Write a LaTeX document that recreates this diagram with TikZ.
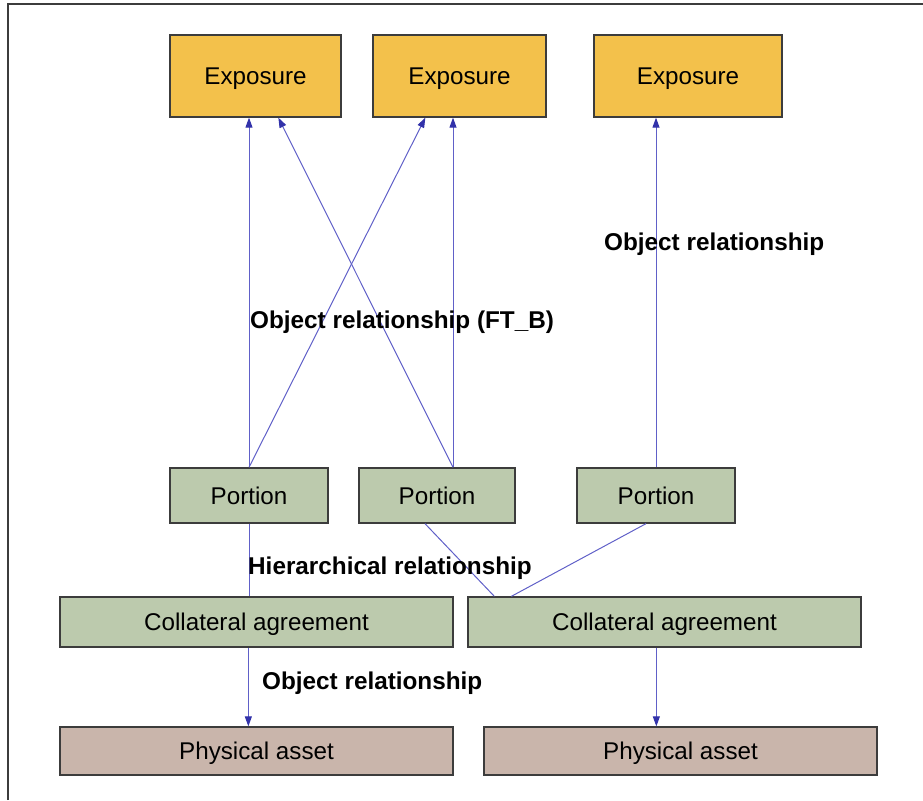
\documentclass[tikz,border=0pt]{standalone}
\usepackage{fontspec}
\setmainfont{Liberation Sans}
\usetikzlibrary{arrows.meta,calc}
\definecolor{expo}{RGB}{243,193,75}
\definecolor{greenbox}{RGB}{188,202,173}
\definecolor{assetbox}{RGB}{201,181,171}
\definecolor{edge}{RGB}{60,60,60}
\definecolor{conn}{RGB}{96,96,200}
\definecolor{tipc}{RGB}{50,50,170}
\begin{document}
\begin{tikzpicture}[x=1pt,y=-1pt,
  box/.style={draw=edge,line width=1.3pt,inner sep=0pt,text depth=0pt,font=\fontsize{24.2}{27}\selectfont},
  expobox/.style={box,fill=expo,minimum height=82pt},
  greenrect/.style={box,fill=greenbox},
  assetrect/.style={box,fill=assetbox,minimum width=393pt,minimum height=48pt},
  conline/.style={draw=conn,line width=1pt},
  arr/.style={conline,-{Triangle[length=10pt,width=7pt,color=tipc]}},
  lbl/.style={anchor=west,inner sep=0pt,font=\bfseries\fontsize{24.3}{27}\selectfont}]
\useasboundingbox (0,0) rectangle (923,800);
\draw[line width=2pt,color=edge] (8,800) -- (8,4) -- (923,4);
% Exposures
\node[expobox,minimum width=171pt] (e1) at (255.5,76) {Exposure};
\node[expobox,minimum width=173pt] (e2) at (459.5,76) {Exposure};
\node[expobox,minimum width=188pt] (e3) at (688,76) {Exposure};
% Portions
\node[greenrect,minimum width=158pt,minimum height=55pt] (p1) at (249,495.5) {Portion};
\node[greenrect,minimum width=156pt,minimum height=55pt] (p2) at (437,495.5) {Portion};
\node[greenrect,minimum width=158pt,minimum height=55pt] (p3) at (656,495.5) {Portion};
% Collateral agreements
\node[greenrect,minimum width=393pt,minimum height=50pt] (c1) at (256.5,622) {Collateral agreement};
\node[greenrect,minimum width=393pt,minimum height=50pt] (c2) at (664.5,622) {Collateral agreement};
% Physical assets
\node[assetrect] (a1) at (256.5,751) {Physical asset};
\node[assetrect] (a2) at (680.5,751) {Physical asset};
% connector end points
\coordinate (p1t) at (p1.north);
\coordinate (p2t) at ($(p2.north)+(16,0)$);
\coordinate (p3t) at (p3.north);
\coordinate (e1a) at (p1t |- e1.south);
\coordinate (e1b) at ($(e1.south west)+(109,0)$);
\coordinate (e2a) at ($(e2.south west)+(53,0)$);
\coordinate (e2b) at (p2t |- e2.south);
\coordinate (e3a) at (p3t |- e3.south);
\coordinate (p2b) at ($(p2.south)+(-12,0)$);
\coordinate (p3b) at ($(p3.south)+(-10,0)$);
\coordinate (c2a) at ($(c2.north west)+(27,0)$);
\coordinate (c2b) at ($(c2.north west)+(44,0)$);
\coordinate (c1t) at (p1.south |- c1.north);
\coordinate (c1s) at ($(c1.south west)+(189,0)$);
\coordinate (c2s) at ($(c2.south west)+(189,0)$);
% arrows to exposures
\draw[arr] (p1t) -- (e1a);
\draw[arr] (p2t) -- (e1b);
\draw[arr] (p1t) -- (e2a);
\draw[arr] (p2t) -- (e2b);
\draw[arr] (p3t) -- (e3a);
% hierarchical lines
\draw[conline] (p1.south) -- (c1t);
\draw[conline] (p2b) -- (c2a);
\draw[conline] (p3b) -- (c2b);
% object relationships down
\draw[arr] (c1s) -- (c1s |- a1.north);
\draw[arr] (c2s) -- (c2s |- a2.north);
% labels
\node[lbl] (l1) at (250,322) {Object relationship (FT\_B)};
\node[lbl] (l2) at (604,244) {Object relationship};
\node[lbl] (l3) at (248,568) {Hierarchical relationship};
\node[lbl] (l4) at (262,683) {Object relationship};
\end{tikzpicture}
\end{document}
